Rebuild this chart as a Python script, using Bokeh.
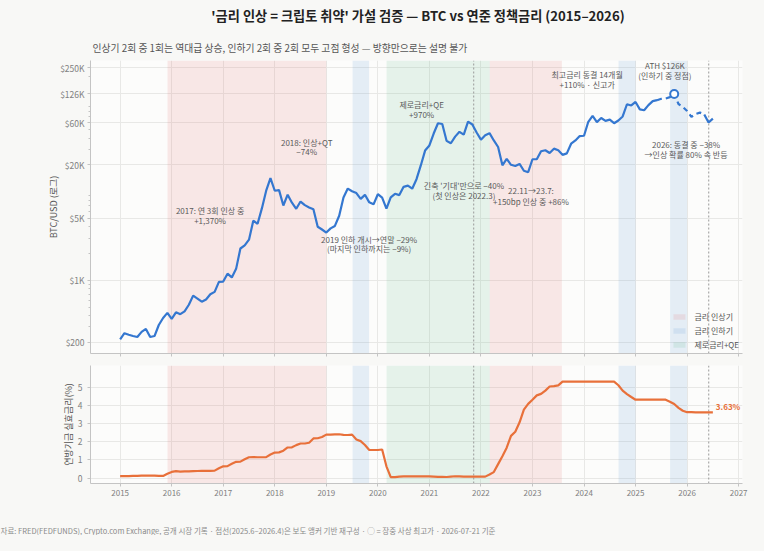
from bokeh.plotting import figure
from bokeh.models import (Range1d, FixedTicker, Label, Legend, LegendItem,
                          ColumnDataSource)
from bokeh.core.properties import value
from bokeh.layouts import column
from bokeh.embed import file_html
from bokeh.resources import INLINE

FONT = "Noto Sans CJK KR"

# ---------------- data ----------------
START_YEAR = 2015  # monthly series, first point = Jan 2015
btc_close = [
    217, 254, 244, 236, 230, 263, 284, 230, 236, 314, 377, 430,            # 2015
    368, 437, 416, 448, 531, 673, 624, 575, 609, 698, 742, 963,            # 2016
    970, 1190, 1079, 1348, 2286, 2480, 2875, 4703, 4338, 6468, 10233, 14156,  # 2017
    10221, 10397, 6973, 9240, 7494, 6404, 7730, 7037, 6625, 6318, 4017, 3742,  # 2018
    3457, 3854, 4105, 5350, 8574, 10817, 10085, 9630, 8293, 9199, 7569, 7193,  # 2019
    9350, 8544, 6424, 8630, 9454, 9138, 11323, 11681, 10785, 13805, 19713, 28990,  # 2020
    33110, 45137, 58918, 57750, 37332, 35041, 41626, 47167, 43791, 61318, 57005, 46306,  # 2021
    38483, 43194, 45538, 37714, 31792, 19785, 23336, 20050, 19431, 20495, 17168, 16547,  # 2022
    23139, 23147, 28478, 29268, 27219, 30477, 29230, 25940, 26962, 34640, 37723, 42265,  # 2023
    42582, 61198, 71333, 60636, 67491, 62678, 64619, 58970, 63330, 70215, 96449, 93429,  # 2024
    102405, 84373, 82548, 94207, 104638, 107135, 111000, 112000, 116000, 126000, 97000, 90000,  # 2025
    81000, 69500, 75000, 77600, 74000, 60000, 66500,                        # 2026
]
fed_rate = [
    0.11, 0.11, 0.11, 0.12, 0.12, 0.13, 0.13, 0.14, 0.14, 0.12, 0.12, 0.24,
    0.34, 0.38, 0.36, 0.37, 0.37, 0.38, 0.39, 0.40, 0.40, 0.40, 0.41, 0.54,
    0.65, 0.66, 0.79, 0.90, 0.91, 1.04, 1.15, 1.16, 1.15, 1.15, 1.16, 1.30,
    1.41, 1.42, 1.51, 1.69, 1.70, 1.82, 1.91, 1.91, 1.95, 2.19, 2.20, 2.27,
    2.40, 2.40, 2.41, 2.42, 2.39, 2.38, 2.40, 2.13, 2.04, 1.83, 1.55, 1.55,
    1.55, 1.58, 0.65, 0.05, 0.05, 0.08, 0.09, 0.10, 0.09, 0.09, 0.09, 0.09,
    0.09, 0.08, 0.07, 0.07, 0.06, 0.08, 0.10, 0.09, 0.08, 0.08, 0.08, 0.08,
    0.08, 0.08, 0.20, 0.33, 0.77, 1.21, 1.68, 2.33, 2.56, 3.08, 3.78, 4.10,
    4.33, 4.57, 4.65, 4.83, 5.06, 5.08, 5.12, 5.33, 5.33, 5.33, 5.33, 5.33,
    5.33, 5.33, 5.33, 5.33, 5.33, 5.33, 5.33, 5.33, 5.13, 4.83, 4.64, 4.48,
    4.33, 4.33, 4.33, 4.33, 4.33, 4.33, 4.33, 4.33, 4.22, 4.09, 3.88, 3.72,
    3.64, 3.64, 3.63, 3.63, 3.63, 3.63, 3.63,
]
months = [START_YEAR + i / 12 for i in range(len(btc_close))]

DASH_FROM = 125   # Jun 2025 (reconstructed segment starts)
DASH_TO = 136     # May 2026
ATH_INDEX = 129   # Oct 2025 intraday ATH $126K

hike_start = [2015.92, 2022.17]
hike_end = [2019.0, 2023.57]
cut_start = [2019.51, 2024.67, 2025.67]
cut_end = [2019.83, 2025.0, 2026.0]
zero_start = [2020.17]
zero_end = [2022.17]
marker_years = [2021.86, 2026.42]

price_ticks = [200, 1000, 5000, 20000, 60000, 126000, 250000]
price_tick_labels = ["$200", "$1K", "$5K", "$20K", "$60K", "$126K", "$250K"]
price_minor = [300, 400, 500, 600, 700, 800, 900, 2000, 3000, 4000, 6000, 7000, 8000, 9000,
               30000, 40000, 50000, 70000, 80000, 90000, 200000]
year_ticks = list(range(2015, 2028))
rate_ticks = [0, 1, 2, 3, 4, 5]

annotations = [
    (2016.745, 6160, 4740, "2017: 연 3회 인상 중", "+1,370%"),
    (2018.62, 35600, 28000, "2018: 인상+QT", "−74%"),
    (2019.83, 2900, 2270, "2019 인하 개시→연말 −29%", "(마지막 인하까지는 −9%)"),
    (2020.85, 94900, 74500, "제로금리+QE", "+970%"),
    (2021.67, 11600, 9100, "긴축 '기대'만으로 −40%", "(첫 인상은 2022.3)"),
    (2022.97, 10200, 7800, "22.11→23.7:", "+150bp 인상 중 +86%"),
    (2024.06, 210600, 162000, "최고금리 동결 14개월", "+110% · 신고가"),
    (2025.57, 262000, 203000, "ATH $126K", "(인하기 중 정점)"),
    (2025.98, 34200, 26400, "2026: 동결 중 −38%", "→인상 확률 80% 속 반등"),
]

TITLE = "'금리 인상 = 크립토 취약' 가설 검증 — BTC vs 연준 정책금리 (2015–2026)"
SUBTITLE = "인상기 2회 중 1회는 역대급 상승, 인하기 2회 중 2회 모두 고점 형성 — 방향만으로는 설명 불가"
FOOTER = ("자료: FRED(FEDFUNDS), Crypto.com Exchange, 공개 시장 기록 · 점선(2025.6–2026.4)은 보도 앵커 기반 재구성"
          " · ◯ = 장중 사상 최고가 · 2026-07-21 기준")

# ---------------- style / geometry ----------------
BG = "#f8f8f6"
PLOT_BG = "#fcfcfb"
GRID = "#e8e8e6"
AXIS = "#c4c4c4"
TICK_TXT = "#808080"
ANN_TXT = "#5a5a5a"
BTC_COLOR = "#3477d0"
RATE_COLOR = "#e8703a"
HIKE_C, CUT_C, ZERO_C = "#e57373", "#5b9bd5", "#4caf7d"

W = 748
LEFT = 90
RIGHT = 6
HEAD_H = 54
FOOT_H = 30

x_range = Range1d(2014.425, 2027.075)


def style(p):
    p.background_fill_color = PLOT_BG
    p.border_fill_color = BG
    p.outline_line_color = None
    for ax in (p.xaxis[0], p.yaxis[0]):
        ax.axis_line_color = AXIS
        ax.major_tick_line_color = AXIS
        ax.minor_tick_line_color = AXIS
        ax.major_tick_out = 3
        ax.major_tick_in = 0
        ax.minor_tick_out = 2
        ax.minor_tick_in = 0
        ax.major_label_text_color = TICK_TXT
        ax.major_label_text_font = FONT
        ax.axis_label_text_font = FONT
        ax.axis_label_text_font_style = "normal"
        ax.axis_label_text_color = "#555555"
        ax.axis_label_text_font_size = "9px"
        ax.axis_label_standoff = -3
    p.xgrid.grid_line_color = GRID
    p.ygrid.grid_line_color = GRID
    p.xaxis.ticker = FixedTicker(ticks=year_ticks, minor_ticks=[])
    p.xgrid.ticker = FixedTicker(ticks=year_ticks, minor_ticks=[])


def text_strip(height):
    s = figure(width=W, height=height, x_range=Range1d(0, W), y_range=Range1d(height, 0),
               x_axis_type=None, y_axis_type=None, output_backend="svg", toolbar_location=None,
               min_border=0)
    s.background_fill_color = BG
    s.border_fill_color = BG
    s.outline_line_color = None
    s.grid.visible = False
    if "frame_align" in s.properties():
        s.frame_align = False
    return s


# ---------------- header ----------------
head = text_strip(HEAD_H)
head.text(x=[417.5], y=[15], text=[TITLE], text_align="center", text_baseline="middle",
          text_font=value(FONT), text_font_size="13.2px", text_font_style="bold",
          text_color="#222222")
head.text(x=[92], y=[47], text=[SUBTITLE], text_align="left", text_baseline="middle",
          text_font=value(FONT), text_font_size="9.8px", text_color="#555555")

# ---------------- top panel ----------------
p1 = figure(width=W, height=6 + 293 + 8, x_range=x_range,
            y_range=Range1d(150, 300000), y_axis_type="log",
            output_backend="svg", toolbar_location=None,
            min_border_left=LEFT, min_border_right=RIGHT, min_border_top=6, min_border_bottom=8)
style(p1)
p1.xaxis.major_label_overrides = {float(t): "" for t in year_ticks}
p1.xaxis.major_label_text_font_size = "1px"
p1.xaxis.major_label_standoff = 0
p1.yaxis.ticker = FixedTicker(ticks=price_ticks, minor_ticks=price_minor)
p1.ygrid.ticker = FixedTicker(ticks=price_ticks, minor_ticks=[])
p1.yaxis.major_label_overrides = {float(t): l for t, l in zip(price_ticks, price_tick_labels)}
p1.yaxis.major_label_text_font_size = "8.5px"
p1.yaxis.major_label_standoff = 3
p1.yaxis.axis_label = "BTC/USD (로그)"

lo1, hi1 = p1.y_range.start, p1.y_range.end
r_hike = p1.quad(left=hike_start, right=hike_end, bottom=lo1, top=hi1,
                 fill_color=HIKE_C, fill_alpha=0.15, line_color=None)
r_cut = p1.quad(left=cut_start, right=cut_end, bottom=lo1, top=hi1,
                fill_color=CUT_C, fill_alpha=0.15, line_color=None)
r_zero = p1.quad(left=zero_start, right=zero_end, bottom=lo1, top=hi1,
                 fill_color=ZERO_C, fill_alpha=0.13, line_color=None)
p1.segment(x0=marker_years, x1=marker_years, y0=lo1, y1=hi1, line_color="#9a9a9a",
           line_dash="2 2", line_width=1)

seg_a = ColumnDataSource(dict(x=months[:DASH_FROM + 1], y=btc_close[:DASH_FROM + 1]))
seg_b = ColumnDataSource(dict(x=months[DASH_FROM:DASH_TO + 1], y=btc_close[DASH_FROM:DASH_TO + 1]))
seg_c = ColumnDataSource(dict(x=months[DASH_TO:], y=btc_close[DASH_TO:]))
p1.line("x", "y", source=seg_a, line_color=BTC_COLOR, line_width=2.2)
p1.line("x", "y", source=seg_b, line_color=BTC_COLOR, line_width=2.2, line_dash="5 4")
p1.line("x", "y", source=seg_c, line_color=BTC_COLOR, line_width=2.2)
p1.scatter([months[ATH_INDEX]], [btc_close[ATH_INDEX]], size=8, marker="circle",
           fill_color="white", line_color=BTC_COLOR, line_width=2)

for x, y1, y2, t1, t2 in annotations:
    for yy, tt in ((y1, t1), (y2, t2)):
        p1.add_layout(Label(x=x, y=yy, text=tt, text_align="center", text_baseline="middle",
                            text_font=FONT, text_font_size="8px", text_color=ANN_TXT))

legend = Legend(items=[LegendItem(label="금리 인상기", renderers=[r_hike]),
                       LegendItem(label="금리 인하기", renderers=[r_cut]),
                       LegendItem(label="제로금리+QE", renderers=[r_zero])],
                location="bottom_right", glyph_width=15, glyph_height=7, label_height=10,
                spacing=3, padding=4, margin=3, label_standoff=8,
                label_text_font=FONT, label_text_font_size="8px", label_text_color="#555555",
                background_fill_alpha=0, border_line_color=None)
p1.add_layout(legend)

# ---------------- bottom panel ----------------
p2 = figure(width=W, height=4 + 118 + 22, x_range=x_range,
            y_range=Range1d(-0.3, 6.22),
            output_backend="svg", toolbar_location=None,
            min_border_left=LEFT, min_border_right=RIGHT, min_border_top=4, min_border_bottom=22)
style(p2)
p2.xaxis.major_label_text_font_size = "8px"
p2.xaxis.major_label_standoff = 3
p2.xaxis.major_label_overrides = {float(t): str(t) for t in year_ticks}
p2.yaxis.ticker = FixedTicker(ticks=rate_ticks, minor_ticks=[])
p2.ygrid.ticker = FixedTicker(ticks=rate_ticks, minor_ticks=[])
p2.yaxis.major_label_text_font_size = "8.5px"
p2.yaxis.major_label_standoff = 5
p2.yaxis.axis_label_standoff = 0
p2.yaxis.axis_label = "연방기금 실효금리(%)"

lo2, hi2 = p2.y_range.start, p2.y_range.end
p2.quad(left=hike_start, right=hike_end, bottom=lo2, top=hi2,
        fill_color=HIKE_C, fill_alpha=0.15, line_color=None)
p2.quad(left=cut_start, right=cut_end, bottom=lo2, top=hi2,
        fill_color=CUT_C, fill_alpha=0.15, line_color=None)
p2.quad(left=zero_start, right=zero_end, bottom=lo2, top=hi2,
        fill_color=ZERO_C, fill_alpha=0.13, line_color=None)
p2.segment(x0=marker_years, x1=marker_years, y0=lo2, y1=hi2, line_color="#9a9a9a",
           line_dash="2 2", line_width=1)

p2.line(months, fed_rate, line_color=RATE_COLOR, line_width=2.2)
p2.add_layout(Label(x=months[-1], y=fed_rate[-1], x_offset=3, y_offset=6,
                    text=f"{fed_rate[-1]:.2f}%", text_align="left", text_baseline="middle",
                    text_font=FONT, text_font_size="8px", text_font_style="bold",
                    text_color=RATE_COLOR))

# ---------------- footer ----------------
foot = text_strip(FOOT_H)
foot.text(x=[0], y=[25], text=[FOOTER], text_align="left", text_baseline="middle",
          text_font=value(FONT), text_font_size="7.5px", text_color="#8a8a8a")

layout = column(head, p1, p2, foot, spacing=0)
html = file_html(layout, INLINE, title="BTC vs Fed")
html = html.replace("</head>", f"<style>html, body {{ background: {BG}; }}</style></head>", 1)
open("out.html", "w").write(html)
